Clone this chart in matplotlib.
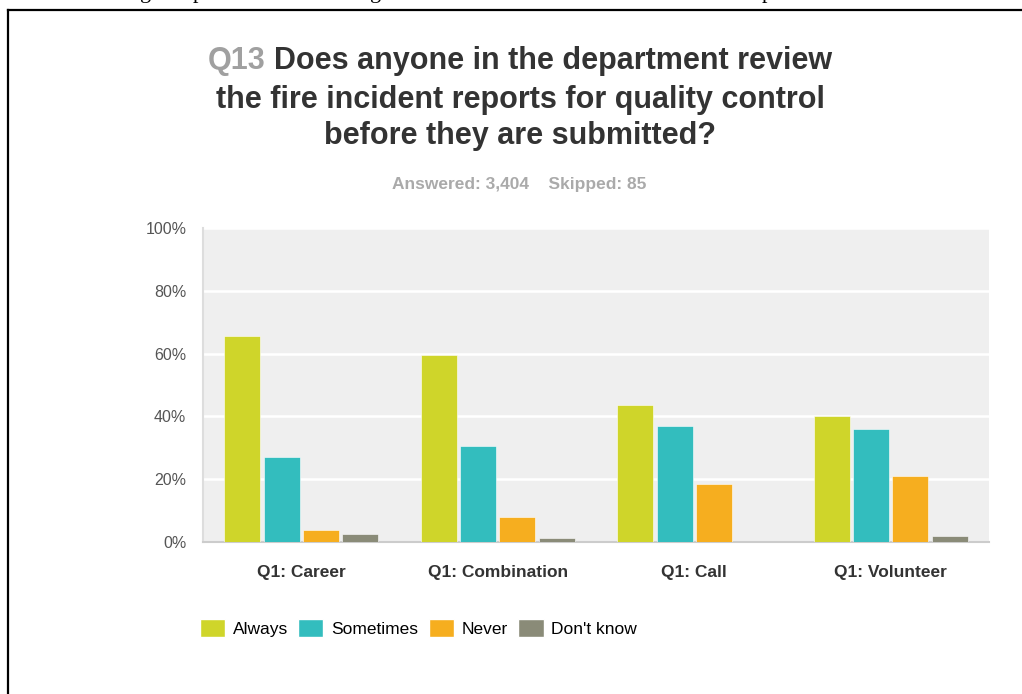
import numpy as np
import matplotlib.pyplot as plt
from matplotlib.lines import Line2D
from matplotlib.patches import Patch

categories = ["Q1: Career", "Q1: Combination", "Q1: Call", "Q1: Volunteer"]
series = ["Always", "Sometimes", "Never", "Don't know"]
always = [65.7, 59.6, 43.6, 40.1]
sometimes = [27.0, 30.5, 37.0, 36.1]
never = [3.8, 8.0, 18.4, 21.0]
dont_know = [2.4, 1.3, 0.0, 1.9]
colors = ["#cfd52a", "#33bdbe", "#f6ae1f", "#8a8b78"]
y_ticks = [0, 20, 40, 60, 80, 100]

SANS = ["Liberation Sans", "DejaVu Sans"]
W, H = 1022, 694

fig = plt.figure(figsize=(W / 100, H / 100), dpi=100)
ax = fig.add_axes([203 / W, 1 - 541.7 / H, 786 / W, 313.5 / H])
ax.set_facecolor("#efefef")

x = np.arange(len(categories))
step = 0.2
width = 0.183
for i, (vals, col) in enumerate(zip([always, sometimes, never, dont_know], colors)):
    ax.bar(x + (i - 1.5) * step, vals, width, color=col, edgecolor="#ffffff",
           linewidth=0.4, zorder=3)

ax.set_xlim(-0.5, 3.5)
ax.set_ylim(0, 100)
ax.set_yticks(y_ticks)
ax.set_yticklabels([f"{t}%" for t in y_ticks], family=SANS, fontsize=11.5, color="#555555")
ax.set_xticks(x)
ax.set_xticklabels(categories, family=SANS, fontsize=12.5, fontweight="bold", color="#333333")
ax.tick_params(axis="y", length=0, pad=12)
ax.tick_params(axis="x", length=0, pad=17)
ax.yaxis.grid(True, color="white", linewidth=1.8, zorder=1)
ax.set_axisbelow(True)
for s in ["top", "right"]:
    ax.spines[s].set_visible(False)
ax.spines["left"].set_color("#dddddd")
ax.spines["left"].set_linewidth(1.5)
ax.spines["bottom"].set_color("#cccccc")
ax.spines["bottom"].set_linewidth(1.5)

# title: grey question number, then the question in dark bold
title_kw = dict(family=SANS, fontsize=22, va="center", fontweight="bold")
t_num = fig.text(0, 1 - 61 / H, "Q13", color="#a0a0a0", ha="left", **title_kw)
t_q = fig.text(0, 1 - 61 / H, "Does anyone in the department review", color="#333333",
               ha="left", **title_kw)
renderer = fig.canvas.get_renderer()
w_num = t_num.get_window_extent(renderer).width
w_q = t_q.get_window_extent(renderer).width
gap = 8
start = 520 - (w_num + gap + w_q) / 2
t_num.set_x(start / W)
t_q.set_x((start + w_num + gap) / W)
fig.text(520 / W, 1 - 100 / H, "the fire incident reports for quality control", ha="center",
         color="#333333", **title_kw)
fig.text(520 / W, 1 - 136 / H, "before they are submitted?", ha="center",
         color="#333333", **title_kw)
fig.text(519 / W, 1 - 184 / H, "Answered: 3,404    Skipped: 85", ha="center", va="center",
         family=SANS, fontsize=12.5, fontweight="bold", color="#aaaaaa")

handles = [Patch(facecolor=c, edgecolor="#ffffff") for c in colors]
fig.legend(handles, series, loc="center left", bbox_to_anchor=(184 / W, 1 - 628 / H),
           ncol=4, frameon=False, prop={"family": SANS, "size": 12.5},
           handlelength=1.45, handleheight=1.3, handletextpad=0.45, columnspacing=0.6)

# page frame and the cut-off line of text above it
fig.add_artist(Line2D([8 / W, 1], [1 - 9.5 / H] * 2, color="black", linewidth=1.6))
fig.add_artist(Line2D([8 / W] * 2, [0, 1 - 9.5 / H], color="black", linewidth=1.6))
for ch, px in [("g", 140), ("p", 193), ("g", 370), ("p", 762)]:
    fig.text(px / W, 1 + 2 / H, ch, ha="left", va="baseline",
             family="Liberation Serif", fontsize=16, color="black")

fig.savefig("out.png", dpi=100)
